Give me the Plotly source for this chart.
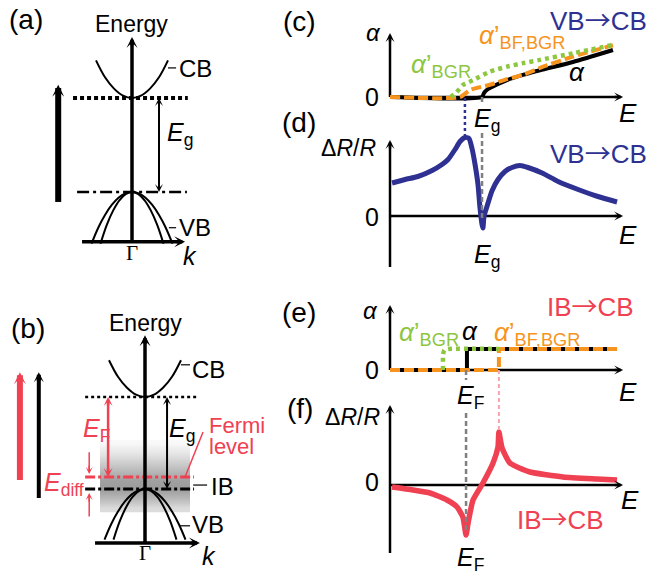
import math
import plotly.graph_objects as go

W, H = 648, 576
SANS = "Liberation Sans, Arial, sans-serif"
SERIF = "Liberation Serif, Times New Roman, serif"
ARROW = "<span style=\"font-family:'Noto Sans CJK JP'\">→</span>"

NAVY = "#2e3192"
RED = "#ef4152"
PINK = "#f6a5ad"
ORANGE = "#f7941d"
GREEN = "#8dc63f"
GRAY = "#808080"

# ---------------- data ----------------
# (a),(b) band diagrams: wavevector k (arb.) vs energy (units of Eg, VB top = 0)
EG = 1.0
E_FERMI = 0.13
K_CB = [-0.8, -0.6, -0.4, -0.2, 0.0, 0.2, 0.4, 0.6, 0.8]
E_CB = [1.40, 1.22, 1.10, 1.025, 1.0, 1.025, 1.10, 1.22, 1.40]
K_HH = [-0.9, -0.75, -0.6, -0.45, -0.3, -0.15, 0.0, 0.15, 0.3, 0.45, 0.6, 0.75, 0.9]
E_HH = [-0.55, -0.38, -0.245, -0.138, -0.061, -0.015, 0.0, -0.015, -0.061, -0.138, -0.245, -0.38, -0.55]
K_LH = [-0.7, -0.56, -0.42, -0.28, -0.14, 0.0, 0.14, 0.28, 0.42, 0.56, 0.7]
E_LH = [-0.55, -0.35, -0.198, -0.088, -0.022, 0.0, -0.022, -0.088, -0.198, -0.35, -0.55]
# gray impurity-band density in (b)
IB_E_EDGES = [-0.25, -0.15, -0.05, 0.05, 0.15, 0.25, 0.35, 0.45, 0.53]
IB_DENSITY = [0.30, 0.60, 0.85, 0.80, 0.60, 0.40, 0.20, 0.06]

# (c) absorption, VB -> CB
E_C_ALPHA = [0.0, 0.409, 0.418, 0.43, 0.444, 0.52, 0.591, 0.667, 0.813, 0.991]
A_C_ALPHA = [0.0, 0.0, 0.09, 0.15, 0.19, 0.36, 0.47, 0.57, 0.745, 1.0]
E_C_BF = [0.0, 0.311, 0.356, 0.40, 0.444, 0.52, 0.591, 0.667, 0.813, 0.991]
A_C_BF = [0.0, 0.0, 0.15, 0.21, 0.26, 0.38, 0.47, 0.62, 0.86, 1.10]
E_C_BGR = [0.27, 0.293, 0.324, 0.369, 0.444, 0.52, 0.591, 0.667, 0.813, 0.991]
A_C_BGR = [0.0, 0.085, 0.255, 0.36, 0.54, 0.645, 0.72, 0.79, 0.93, 1.11]
E_GAP_C = 0.409
E_PEAK_D = 0.333

# (d) ΔR/R, VB -> CB
E_D = [0.009, 0.067, 0.124, 0.187, 0.231, 0.258, 0.289, 0.311, 0.333, 0.351, 0.364,
       0.378, 0.391, 0.40, 0.409, 0.413, 0.418, 0.431, 0.453, 0.48, 0.511, 0.542,
       0.578, 0.613, 0.676, 0.747, 0.836, 0.924, 1.009]
R_D = [0.66, 0.73, 0.79, 0.91, 1.03, 1.13, 1.33, 1.49, 1.57, 1.55, 1.36,
       1.03, 0.63, 0.16, -0.17, -0.24, 0.0, 0.19, 0.50, 0.73, 0.89, 0.97,
       1.01, 0.97, 0.86, 0.69, 0.53, 0.39, 0.28]

# (e) absorption, IB -> CB (steps)
E_E_ALPHA = [0.0, 0.342, 0.342, 1.009]
A_E_ALPHA = [0.0, 0.0, 1.0, 1.0]
E_E_BF = [0.0, 0.484, 0.484, 1.009]
A_E_BF = [0.0, 0.0, 1.0, 1.0]
E_E_BGR = [0.236, 0.236, 0.242, 0.258, 0.484]
A_E_BGR = [0.0, 0.75, 0.95, 1.0, 1.0]
E_FERMI_E = 0.338

# (f) ΔR/R, IB -> CB
E_F = [0.009, 0.102, 0.178, 0.253, 0.298, 0.324, 0.338, 0.347, 0.369, 0.413,
       0.458, 0.48, 0.484, 0.498, 0.533, 0.622, 0.769, 0.92, 1.009]
R_F = [-0.08, -0.20, -0.32, -0.60, -0.88, -1.28, -2.0, -1.52, -0.60, 0.08,
       0.88, 1.52, 2.12, 1.48, 0.88, 0.52, 0.32, 0.24, 0.20]

# ---------------- figure ----------------
fig = go.Figure()

# panel frames: origin pixel (x0, y0) and pixels per unit (sx, sy)
PANELS = {
    'a': (132, 192, 45, 94),
    'b': (145, 489, 45, 92),
    'c': (390, 97, 225, 47),
    'd': (390, 216, 225, 50),
    'e': (390, 370, 225, 21),
    'f': (390, 485, 225, 25),
}
AX = {}
axes_layout = {}
for i, (key, (x0, y0, sx, sy)) in enumerate(PANELS.items(), start=1):
    sfx = '' if i == 1 else str(i)
    AX[key] = ('x' + sfx, 'y' + sfx, sx, sy)
    axes_layout['xaxis' + sfx] = dict(domain=[0, 1], range=[-x0 / sx, (W - x0) / sx],
                                      visible=False, anchor='y' + sfx, fixedrange=True)
    axes_layout['yaxis' + sfx] = dict(domain=[0, 1], range=[(y0 - H) / sy, y0 / sy],
                                      visible=False, anchor='x' + sfx, fixedrange=True)


def curve(p, xs, ys, color, width, dash='solid', shape='linear', smoothing=1.0):
    xa, ya, _, _ = AX[p]
    fig.add_trace(go.Scatter(x=xs, y=ys, xaxis=xa, yaxis=ya, mode='lines',
                             line=dict(color=color, width=width, dash=dash, shape=shape,
                                       smoothing=smoothing),
                             hoverinfo='skip', showlegend=False))


def head(p, xt, yt, ux, uy, color, width, head_w):
    xa, ya, sx, sy = AX[p]
    fig.add_annotation(x=xt, y=yt, ax=xt - ux * 10 / sx, ay=yt - uy * 10 / sy,
                       xref=xa, yref=ya, axref=xa, ayref=ya, text='', showarrow=True,
                       arrowhead=3, arrowsize=head_w / (6.0 * width), arrowwidth=width,
                       arrowcolor=color, standoff=0)


def arrow(p, x0, y0, x1, y1, color, width, head_w, both=False):
    _, _, sx, sy = AX[p]
    dxp, dyp = (x1 - x0) * sx, (y1 - y0) * sy
    L = math.hypot(dxp, dyp)
    ux, uy = dxp / L, dyp / L
    back = 0.5 * head_w
    xe, ye = x1 - ux * back / sx, y1 - uy * back / sy
    xs, ys = x0, y0
    if both:
        xs, ys = x0 + ux * back / sx, y0 + uy * back / sy
    curve(p, [xs, xe], [ys, ye], color, width)
    head(p, x1, y1, ux, uy, color, width, head_w)
    if both:
        head(p, x0, y0, -ux, -uy, color, width, head_w)


def label(text, px, py, size, color='black', family=SANS, xanchor='center'):
    fig.add_annotation(x=px / W, y=1 - py / H, xref='paper', yref='paper', text=text,
                       showarrow=False, xanchor=xanchor, yanchor='middle',
                       font=dict(size=size, color=color, family=family))


# ---------- (a) ----------
curve('a', [-1.31, 1.24], [EG, EG], 'black', 4, dash='4px,3px')
curve('a', [-1.22, 1.22], [0, 0], 'black', 2.5, dash='12px,4px,3px,4px')
curve('a', K_CB, E_CB, 'black', 2, shape='spline')
curve('a', K_HH, E_HH, 'black', 2, shape='spline')
curve('a', K_LH, E_LH, 'black', 2, shape='spline')
curve('a', [0.8, 0.98], [1.32, 1.32], 'black', 1.2)
curve('a', [0.82, 0.98], [-0.38, -0.38], 'black', 1.2)
arrow('a', 0, -0.53, 0, 1.65, 'black', 3.5, 11)
arrow('a', -1.11, -0.53, 1.18, -0.53, 'black', 3.5, 11)
arrow('a', 0.6, 0, 0.6, EG, 'black', 2, 8, both=True)
arrow('a', -1.64, -0.106, -1.64, 1.14, 'black', 6, 12)

# ---------- (b) ----------
fig.add_trace(go.Heatmap(x=[-1.0, 0.0, 1.0], y=IB_E_EDGES,
                         z=[[d, d] for d in IB_DENSITY], xaxis='x2', yaxis='y2',
                         colorscale=[[0, '#ffffff'], [1, '#8a8a8a']], zmin=0, zmax=1,
                         showscale=False, zsmooth='best', hoverinfo='skip'))
curve('b', [-1.33, 1.2], [EG, EG], 'black', 2.5, dash='3px,3px')
curve('b', [-1.33, 1.09], [E_FERMI, E_FERMI], RED, 3, dash='10px,3px,3px,3px')
curve('b', [-1.33, 1.09], [0, 0], 'black', 3, dash='10px,3px,3px,3px')
curve('b', K_CB, E_CB, 'black', 2, shape='spline')
curve('b', K_HH, E_HH, 'black', 2, shape='spline')
curve('b', K_LH, E_LH, 'black', 2, shape='spline')
curve('b', [0.8, 1.0], [1.35, 1.35], 'black', 1.2)
curve('b', [0.78, 1.0], [-0.40, -0.40], 'black', 1.2)
curve('b', [1.07, 1.38], [0.043, 0.043], 'black', 1.2)
curve('b', [1.29, 0.89], [0.62, E_FERMI], RED, 1.5)
arrow('b', 0, -0.587, 0, 1.67, 'black', 3.5, 11)
arrow('b', -1.11, -0.587, 1.22, -0.587, 'black', 3.5, 11)
arrow('b', -0.82, E_FERMI, -0.82, EG, RED, 2.5, 9, both=True)
arrow('b', 0.49, 0, 0.49, EG, 'black', 2, 8, both=True)
arrow('b', -1.24, 0.40, -1.24, 0.163, RED, 1.5, 7)
arrow('b', -1.24, -0.30, -1.24, -0.043, RED, 1.5, 7)
arrow('b', -2.78, 0.098, -2.78, 1.27, RED, 6, 12)
arrow('b', -2.36, -0.098, -2.36, 1.27, 'black', 4, 10)

# ---------- (c) ----------
arrow('c', 0, 0, 1.036, 0, 'black', 2.5, 9)
arrow('c', 0, 0, 0, 1.36, 'black', 2.5, 9)
curve('c', E_C_ALPHA, A_C_ALPHA, 'black', 4, shape='spline', smoothing=0.6)
curve('c', E_C_BF, A_C_BF, ORANGE, 4, dash='10px,4px', shape='spline', smoothing=0.6)
curve('c', E_C_BGR, A_C_BGR, GREEN, 4.5, dash='4px,4px', shape='spline', smoothing=0.6)
curve('c', [E_GAP_C, E_GAP_C], [0, -0.15], GRAY, 2.5, dash='5px,3px')

# ---------- (d) ----------
arrow('d', 0, 0, 1.036, 0, 'black', 2.5, 9)
arrow('d', 0, -1.02, 0, 1.52, 'black', 2.5, 9)
curve('d', E_D, R_D, NAVY, 5, shape='spline', smoothing=0.6)
curve('d', [E_PEAK_D, E_PEAK_D], [2.36, 1.62], NAVY, 2.5, dash='3px,3px')
curve('d', [E_GAP_C, E_GAP_C], [1.66, -0.1], GRAY, 2.5, dash='5px,3px')

# ---------- (e) ----------
arrow('e', 0, 0, 1.036, 0, 'black', 2.5, 9)
arrow('e', 0, 0, 0, 3.1, 'black', 2.5, 9)
curve('e', E_E_ALPHA, A_E_ALPHA, 'black', 4)
curve('e', E_E_BF, A_E_BF, ORANGE, 4, dash='10px,4px')
curve('e', E_E_BGR, A_E_BGR, GREEN, 4.5, dash='4px,4px', shape='spline', smoothing=0.6)
curve('e', [E_FERMI_E, E_FERMI_E], [0, -0.48], GRAY, 2.5, dash='5px,3px')

# ---------- (f) ----------
arrow('f', 0, 0, 1.036, 0, 'black', 2.5, 9)
arrow('f', 0, -2.72, 0, 3.2, 'black', 2.5, 9)
curve('f', E_F, R_F, RED, 5.5, shape='spline', smoothing=0.5)
curve('f', [0.484, 0.484], [4.6, 2.2], PINK, 2, dash='4px,3px')
curve('f', [E_FERMI_E, E_FERMI_E], [2.88, -1.9], GRAY, 2.5, dash='5px,3px')

# ---------- labels ----------
# (a)
label('(a)', 26, 20, 28)
label('Energy', 131, 24, 23)
label('CB', 195, 69, 24)
label('VB', 195, 228, 24)
label('<i>E</i><sub>g</sub>', 180, 134, 25)
label('Γ', 132, 253, 21, family=SERIF)
label('<i>k</i>', 190, 256, 25)
# (b)
label('(b)', 28, 328, 28)
label('Energy', 145, 323, 23)
label('CB', 208, 369, 24)
label('<i>E</i><sub>F</sub>', 96, 430, 25, RED)
label('<i>E</i><sub>g</sub>', 182, 430, 25)
label('Fermi', 207, 425, 22, RED, xanchor='left')
label('level', 207, 446, 22, RED, xanchor='left')
label('IB', 222, 486, 24)
label('<i>E</i><sub>diff</sub>', 64, 484, 25, RED)
label('VB', 208, 524, 24)
label('Γ', 145, 553, 21, family=SERIF)
label('<i>k</i>', 209, 556, 25)
# (c)
label('(c)', 299, 22, 28)
label('<i>α</i>', 373, 33, 24)
label('0', 372, 97, 25)
label('VB' + ARROW + 'CB', 598, 18, 26, NAVY)
label('<i>α</i>’<sub>BF,BGR</sub>', 477, 36, 26, ORANGE, xanchor='left')
label('<i>α</i>’<sub>BGR</sub>', 409, 65, 26, GREEN, xanchor='left')
label('<i>α</i>', 577, 72, 26)
label('<i>E</i><sub>g</sub>', 487, 120, 25)
label('<i>E</i>', 628, 113, 26)
# (d)
label('(d)', 299, 123, 28)
label('Δ<i>R</i>/<i>R</i>', 348, 148, 23)
label('0', 372, 217, 25)
label('VB' + ARROW + 'CB', 598, 152, 26, NAVY)
label('<i>E</i><sub>g</sub>', 487, 256, 25)
label('<i>E</i>', 628, 235, 26)
# (e)
label('(e)', 299, 312, 28)
label('<i>α</i>', 370, 310, 24)
label('0', 372, 370, 25)
label('IB' + ARROW + 'CB', 590, 304, 26, RED)
label('<i>α</i>’<sub>BGR</sub>', 397, 333, 26, GREEN, xanchor='left')
label('<i>α</i>', 470, 331, 26)
label('<i>α</i>’<sub>BF,BGR</sub>', 492, 333, 26, ORANGE, xanchor='left')
label('<i>E</i><sub>F</sub>', 470, 397, 25)
label('<i>E</i>', 628, 392, 26)
# (f)
label('(f)', 300, 408, 28)
label('Δ<i>R</i>/<i>R</i>', 352, 417, 23)
label('0', 372, 482, 25)
label('<i>E</i>', 630, 500, 26)
label('IB' + ARROW + 'CB', 560, 517, 26, RED)
label('<i>E</i><sub>F</sub>', 470, 559, 25)

fig.update_layout(width=W, height=H, margin=dict(l=0, r=0, t=0, b=0),
                  paper_bgcolor='white', plot_bgcolor='rgba(0,0,0,0)',
                  showlegend=False, **axes_layout)

fig.write_html("out.html", config={'displayModeBar': False, 'staticPlot': True},
               post_script="document.body.style.margin='0px';document.body.style.padding='0px';")
